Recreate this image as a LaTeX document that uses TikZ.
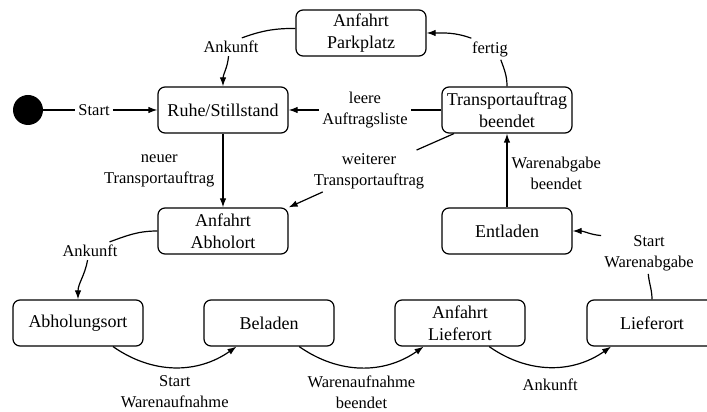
\documentclass[tikz,border=0pt]{standalone}
\usepackage{fontspec}
\IfFontExistsTF{LiberationSerif-Regular.ttf}
  {\setmainfont{LiberationSerif}[Extension=.ttf,UprightFont=*-Regular,
     BoldFont=*-Bold,ItalicFont=*-Italic,BoldItalicFont=*-BoldItalic]}
  {\setmainfont{Liberation Serif}}
\usetikzlibrary{arrows.meta}
\begin{document}
\begin{tikzpicture}[x=1pt,y=1pt,
  state/.style={draw, line width=1.2pt, rounded corners=7pt, minimum width=130pt,
    minimum height=46pt, align=center, inner sep=2pt, font=\fontsize{18}{22}\selectfont},
  initstate/.style={circle, fill=black, minimum size=30pt, inner sep=0pt},
  lbl/.style={fill=white, align=center, inner sep=3pt, font=\fontsize{16.5}{21}\selectfont},
  seg/.style={line width=1.2pt},
  trans/.style={line width=1.2pt, -{Latex[length=9pt,width=6.5pt]}}]
\useasboundingbox (0,0) rectangle (707,412);
\fill[white] (0,0) rectangle (707,412);

% states
\node[initstate] (init) at (28,302) {};
\node[state] (R)  at (223,302) {Ruhe/Stillstand};
\node[state] (P)  at (361,379) {Anfahrt\\Parkplatz};
\node[state] (T)  at (507,302) {Transportauftrag\\beendet};
\node[state] (A)  at (223,181) {Anfahrt\\Abholort};
\node[state] (E)  at (507,181) {Entladen};
\node[state] (Ab) at (78,89)   {Abholungsort};
\node[state] (B)  at (269,89)  {Beladen};
\node[state] (AL) at (460,89)  {Anfahrt\\Lieferort};
\node[state] (L)  at (652,89)  {Lieferort};

% transition labels that sit on their connectors
\node[lbl] (lS) at (94,302)  {Start};
\node[lbl] (a1) at (231,365) {Ankunft};
\node[lbl] (fe) at (490,363) {fertig};
\node[lbl] (lL) at (365,302) {leere\\Auftragsliste};
\node[lbl] (lW) at (369,241) {weiterer\\Transportauftrag};
\node[lbl] (a2) at (90,161)  {Ankunft};
\node[lbl] (sw) at (649,159) {Start\\Warenabgabe};

% start
\draw[seg] (init) -- (lS);
\draw[trans] (lS) -- (R.west);

% parking loop
\draw[seg] (P.176) to[out=180,in=20] (a1.40);
\draw[trans] (a1.-105) to[out=-95,in=90] (R.north);
\draw[seg] (T.north) to[out=90,in=-70] (fe.-45);
\draw[trans] (fe.150) to[out=160,in=0] (P.east);

% order list
\draw[seg] (T.west) -- (lL);
\draw[trans] (lL) -- (R.east);
\draw[seg] (T.204) -- (lW);
\draw[trans] (lW) -- (A.north east);
\draw[trans] (R.south) -- node[lbl,left=5pt]{neuer\\Transportauftrag} (A.north);

% pick-up
\draw[seg] (A.west) to[out=180,in=20] (a2.25);
\draw[trans] (a2.-105) to[out=-100,in=90] (Ab.north);
\draw[trans] (Ab.-34) to[bend right=35] node[lbl,below=5pt]{Start\\Warenaufnahme} (B.-144);
\draw[trans] (B.-38) to[bend right=35] node[lbl,below=5pt]{Warenaufnahme\\beendet} (AL.-147);
\draw[trans] (AL.-39) to[bend right=35] node[lbl,below=8pt]{Ankunft} (L.-150);

% delivery
\draw[seg] (L.north) to[out=90,in=-85] (sw.-92);
\draw[trans] (sw.160) to[out=175,in=0] (E.east);
\draw[trans] (E.north) -- node[lbl,right=1pt,yshift=-3pt]{Warenabgabe\\beendet} (T.south);
\end{tikzpicture}
\end{document}
